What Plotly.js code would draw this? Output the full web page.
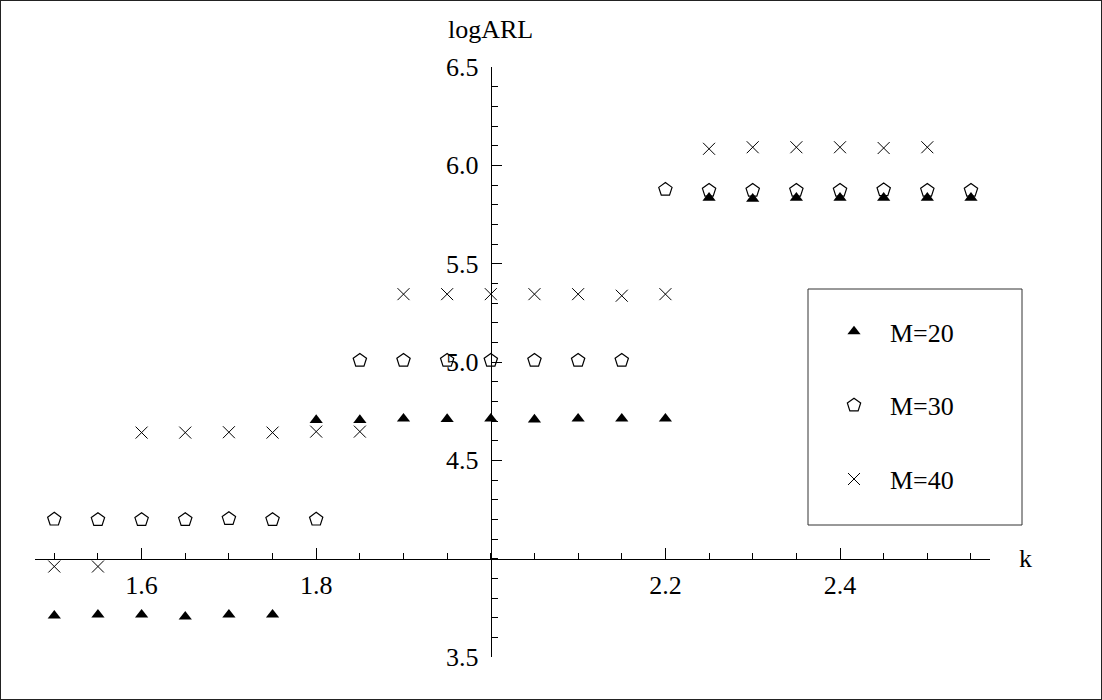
<!DOCTYPE html>
<html><head><meta charset="utf-8">
<script src="https://cdn.plot.ly/plotly-3.0.1.min.js"></script>
<style>
html,body{margin:0;padding:0;background:#fff;}
#wrap{position:relative;width:1102px;height:700px;}
#chart{width:1102px;height:700px;}
#frame{position:absolute;left:0;top:0;width:1102px;height:700px;box-sizing:border-box;border:1px solid #222;pointer-events:none;}
</style></head><body>
<div id="wrap"><div id="chart"></div><div id="frame"></div></div>
<script>
const k = [1.50,1.55,1.60,1.65,1.70,1.75,1.80,1.85,1.90,1.95,2.00,2.05,2.10,2.15,2.20,2.25,2.30,2.35,2.40,2.45,2.50,2.55];
const logARL_M20 = [3.71,3.715,3.715,3.705,3.715,3.715,4.705,4.705,4.712,4.71,4.712,4.707,4.712,4.712,4.712,5.835,5.83,5.835,5.835,5.835,5.835,5.835];
const logARL_M30 = [4.2,4.198,4.198,4.198,4.203,4.198,4.2,5.008,5.008,5.008,5.008,5.008,5.008,5.008,5.877,5.872,5.872,5.872,5.872,5.875,5.872,5.872];
const logARL_M40 = [3.96,3.96,4.641,4.641,4.643,4.641,4.646,4.646,5.345,5.345,5.345,5.345,5.345,5.337,5.345,6.084,6.092,6.092,6.092,6.088,6.092,null];
const seriesNames = ['M=20','M=30','M=40'];
const xTickVals = [1.6,1.8,2.2,2.4];
const xTickText = ['1.6','1.8','2.2','2.4'];
const yTickVals = [3.5,4.5,5.0,5.5,6.0,6.5];
const yTickText = ['3.5','4.5','5.0','5.5','6.0','6.5'];

const FONT = '"Liberation Serif", "Times New Roman", serif';
const FS = 26;
const xRange = [1.4779, 2.5718];
const yRange = [3.5, 6.5];

const traces = [
  {x:k, y:logARL_M40, name:seriesNames[2], type:'scatter', mode:'markers', legendgroup:'c', legendrank:3,
   marker:{symbol:'x-thin-open', size:12, color:'#000', line:{color:'#000', width:1}}},
  {x:k, y:logARL_M30, name:seriesNames[1], type:'scatter', mode:'markers', legendgroup:'b', legendrank:2,
   marker:{symbol:'pentagon-open', size:14, color:'#000', line:{color:'#000', width:1.2}}},
  {x:k, y:logARL_M20, name:seriesNames[0], type:'scatter', mode:'markers', legendgroup:'a', legendrank:1,
   marker:{symbol:'triangle-up', size:11.5, color:'#000', line:{width:0}}}
];

const L = 35, R = 112, T = 67, B = 43;
const W = 1102 - L - R, H = 700 - T - B;
const px2paperX = p => (p - L) / W;
const px2paperY = p => (700 - B - p) / H;

const layout = {
  width:1102, height:700,
  margin:{l:L, r:R, t:T, b:B, pad:0},
  paper_bgcolor:'#fff', plot_bgcolor:'#fff',
  font:{family:FONT, size:FS, color:'#000'},
  showlegend:true,
  legend:{x:px2paperX(818), y:px2paperY(308), xanchor:'left', yanchor:'top',
    bgcolor:'rgba(0,0,0,0)', borderwidth:0, tracegroupgap:37, itemwidth:62,
    font:{family:FONT, size:FS, color:'#000'}, traceorder:'grouped'},
  xaxis:{range:xRange, anchor:'free', position:(4.0 - yRange[0])/(yRange[1]-yRange[0]),
    showgrid:false, zeroline:false, showline:true, linecolor:'#000', linewidth:1,
    ticks:'inside', ticklen:11, tickwidth:1, tickcolor:'#000', ticklabelstandoff:3,
    tickmode:'array', tickvals:xTickVals, ticktext:xTickText,
    tickfont:{family:FONT, size:FS, color:'#000'},
    minor:{tickmode:'linear', tick0:1.5, dtick:0.05, ticklen:6, tickwidth:1, tickcolor:'#000', ticks:'inside', showgrid:false}},
  yaxis:{range:yRange, anchor:'free', position:(2.0 - xRange[0])/(xRange[1]-xRange[0]),
    showgrid:false, zeroline:false, showline:true, linecolor:'#000', linewidth:1,
    ticks:'inside', ticklen:10, tickwidth:1, tickcolor:'#000', ticklabelstandoff:7,
    tickmode:'array', tickvals:yTickVals, ticktext:yTickText,
    tickfont:{family:FONT, size:FS, color:'#000'},
    minor:{tickmode:'linear', tick0:3.5, dtick:0.1, ticklen:6, tickwidth:1, tickcolor:'#000', ticks:'inside', showgrid:false}},
  shapes:[
    {type:'rect', xref:'paper', yref:'paper', x0:px2paperX(808), x1:px2paperX(1022), y0:px2paperY(525), y1:px2paperY(289),
     line:{color:'#333', width:1}, fillcolor:'#fff', layer:'below'}
  ],
  annotations:[
    {text:'logARL', xref:'x', yref:'paper', x:2.0, y:px2paperY(30), xanchor:'center', yanchor:'middle', showarrow:false,
     font:{family:FONT, size:FS, color:'#000'}},
    {text:'k', xref:'paper', yref:'y', x:px2paperX(1017), y:4.0, xanchor:'left', yanchor:'middle', showarrow:false,
     font:{family:FONT, size:FS, color:'#000'}}
  ]
};

Plotly.newPlot('chart', traces, layout, {displayModeBar:false, staticPlot:true});
</script>
</body></html>
